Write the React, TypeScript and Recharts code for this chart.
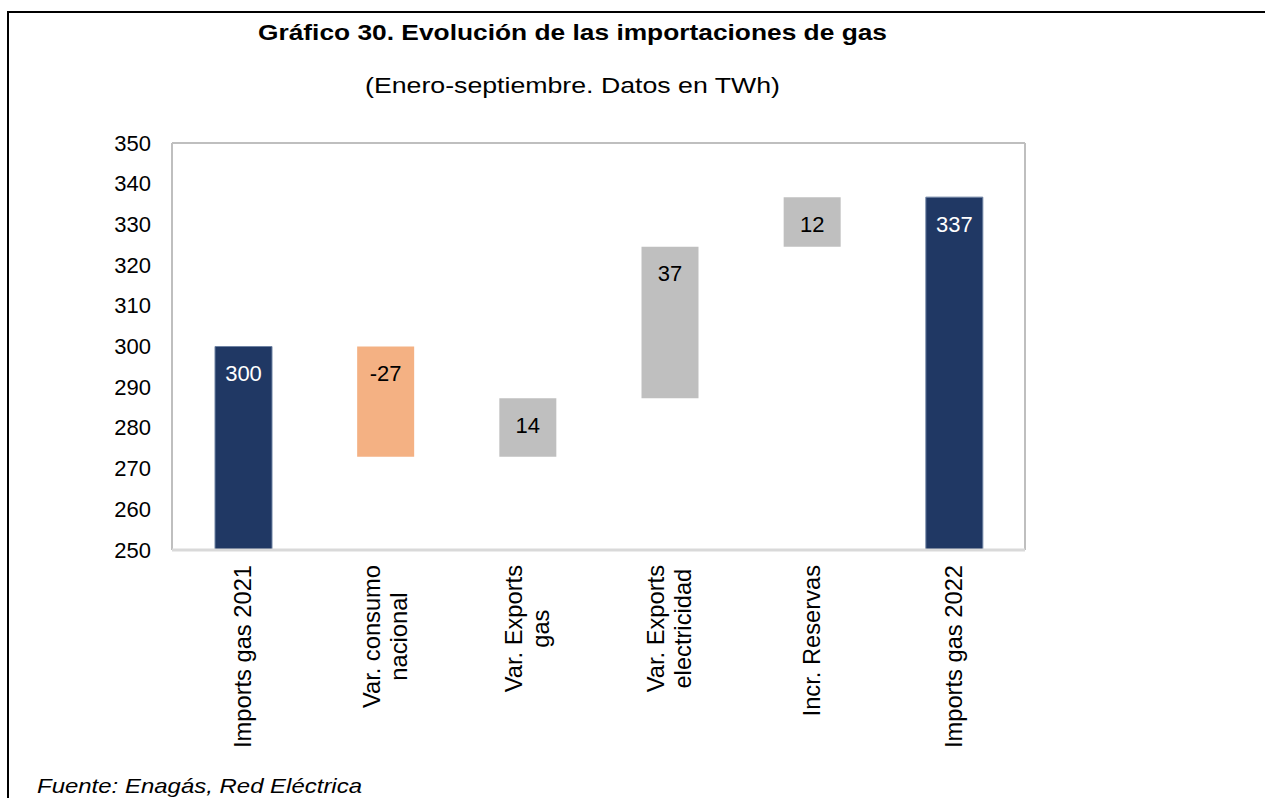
import { BarChart, Bar, XAxis, YAxis, CartesianGrid, Cell, LabelList } from "recharts";

const categories = [
  "Imports gas 2021",
  "Var. consumo\nnacional",
  "Var. Exports\ngas",
  "Var. Exports\nelectricidad",
  "Incr. Reservas",
  "Imports gas 2022",
];
// TWh: totals are absolute, the rest are variations
const values = [300.0, -27.1, 14.4, 37.2, 12.2, 336.7];
const isTotal = [true, false, false, false, false, true];
const yTicks = [250, 260, 270, 280, 290, 300, 310, 320, 330, 340, 350];

const TOTAL_COLOR = "#203864";
const DOWN_COLOR = "#f4b183";
const UP_COLOR = "#bfbfbf";
const FONT = '"Liberation Sans", Arial, sans-serif';
const X_FONT_SIZE = 23.7;

let running = 0;
const data = categories.map((name, i) => {
  const v = values[i];
  let low: number;
  let high: number;
  if (isTotal[i]) {
    low = 0;
    high = v;
    running = v;
  } else {
    low = Math.min(running, running + v);
    high = Math.max(running, running + v);
    running += v;
  }
  return { name, value: v, low, high, total: isTotal[i] };
});

let ctx: CanvasRenderingContext2D | null = null;
function textWidth(s: string) {
  if (!ctx) {
    ctx = document.createElement("canvas").getContext("2d");
  }
  if (!ctx) return s.length * X_FONT_SIZE * 0.5;
  ctx.font = `${X_FONT_SIZE}px ${FONT}`;
  return ctx.measureText(s).width;
}

function XTick(props: any) {
  const { x, y, payload } = props;
  const lines = String(payload.value).split("\n");
  const maxW = Math.max(...lines.map(textWidth));
  const cy = y + maxW / 2;
  const gap = 27;
  return (
    <g>
      {lines.map((line, i) => {
        const cx = x + (i - (lines.length - 1) / 2) * gap;
        return (
          <text
            key={i}
            x={cx}
            y={cy}
            transform={`rotate(-90, ${cx}, ${cy})`}
            textAnchor="middle"
            dominantBaseline="central"
            fontSize={X_FONT_SIZE}
            fontFamily={FONT}
            fill="#000"
          >
            {line}
          </text>
        );
      })}
    </g>
  );
}

function YTick(props: any) {
  const { x, y, payload } = props;
  return (
    <text
      x={x}
      y={y}
      textAnchor="end"
      dominantBaseline="central"
      fontSize={22}
      fontFamily={FONT}
      fill="#000"
    >
      {payload.value}
    </text>
  );
}

function BarValue(props: any) {
  const { x, y, width, value, index } = props;
  const total = data[index]?.total;
  return (
    <text
      x={x + width / 2}
      y={y + 27}
      textAnchor="middle"
      dominantBaseline="central"
      fontSize={22}
      fontFamily={FONT}
      fill={total ? "#ffffff" : "#000000"}
    >
      {Math.round(value)}
    </text>
  );
}

export default function App() {
  return (
    <div style={{ position: "absolute", left: 0, top: 0, width: 1265, height: 798, background: "#fff" }}>
      <BarChart
        width={1265}
        height={798}
        data={data}
        margin={{ top: 143, right: 240, bottom: 48, left: 112 }}
        barCategoryGap="0%"
      >
        <CartesianGrid
          stroke="#bfbfbf"
          strokeWidth={2}
          horizontalCoordinatesGenerator={({ offset }: any) => [offset.top]}
          verticalCoordinatesGenerator={({ offset }: any) => [offset.left, offset.left + offset.width]}
        />
        <XAxis
          dataKey="name"
          interval={0}
          tickLine={false}
          tickSize={0}
          tickMargin={15}
          height={200}
          axisLine={{ stroke: "#d9d9d9", strokeWidth: 3 }}
          tick={<XTick />}
        />
        <YAxis
          domain={[250, 350]}
          ticks={yTicks}
          allowDataOverflow
          width={60}
          tickLine={false}
          axisLine={false}
          tickSize={0}
          tickMargin={21}
          tick={<YTick />}
        />
        <Bar dataKey={(d: any) => [d.low, d.high]} barSize={57} isAnimationActive={false}>
          {data.map((d, i) => (
            <Cell
              key={i}
              fill={d.total ? TOTAL_COLOR : d.value < 0 ? DOWN_COLOR : UP_COLOR}
              stroke={d.total ? "#6f83a3" : "none"}
              strokeWidth={d.total ? 1 : 0}
            />
          ))}
          <LabelList dataKey="value" content={<BarValue />} />
        </Bar>
      </BarChart>
      <svg
        width={1265}
        height={798}
        style={{ position: "absolute", left: 0, top: 0, pointerEvents: "none" }}
      >
        <line x1={8} y1={12} x2={1265} y2={12} stroke="#000" strokeWidth={2} />
        <line x1={8} y1={11} x2={8} y2={798} stroke="#000" strokeWidth={2} />
        <text
          x={258}
          y={40}
          fontSize={22}
          fontWeight="bold"
          fontFamily={FONT}
          textLength={629}
          lengthAdjust="spacingAndGlyphs"
        >
          Gráfico 30. Evolución de las importaciones de gas
        </text>
        <text
          x={365}
          y={93}
          fontSize={22}
          fontFamily={FONT}
          textLength={415}
          lengthAdjust="spacingAndGlyphs"
        >
          (Enero-septiembre. Datos en TWh)
        </text>
        <text
          x={37}
          y={793}
          fontSize={21}
          fontStyle="italic"
          fontFamily={FONT}
          textLength={325}
          lengthAdjust="spacingAndGlyphs"
        >
          Fuente: Enagás, Red Eléctrica
        </text>
      </svg>
    </div>
  );
}
